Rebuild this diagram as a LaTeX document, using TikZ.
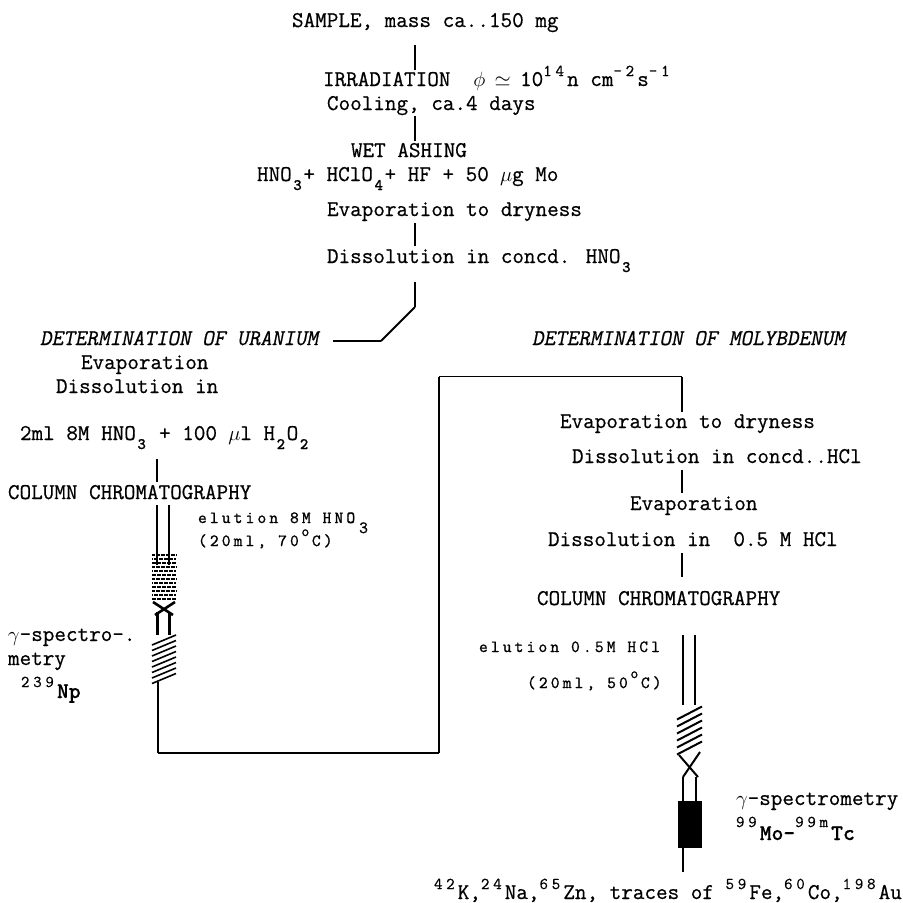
\documentclass[tikz,border=0pt]{standalone}
\usepackage{fontspec}
\newfontfamily\mainf[FakeBold=0.6]{Latin Modern Mono}
\newfontfamily\italf[FakeBold=0.6,FakeSlant=0.2]{Latin Modern Mono}
\newfontfamily\supf[LetterSpace=22.5,FakeBold=0.6]{Latin Modern Mono}
\newfontfamily\eluf[LetterSpace=18.5,FakeBold=1.2]{Latin Modern Mono}
\newfontfamily\boldf[FakeBold=0.6]{Latin Modern Mono Light}
\newcommand{\ch}[1]{\makebox[11.65pt]{$#1$}}
\newcommand{\up}[1]{\raisebox{10pt}{\fontsize{16.5}{16}\supf #1}\kern3.1pt}
\newcommand{\dn}[1]{\raisebox{-9pt}{\makebox[11.65pt]{\fontsize{16}{16}\boldf\bfseries #1}}}
\newcommand{\bld}[2][0pt]{\raisebox{#1}{\fontsize{22.5}{22}\boldf\bfseries #2}}
\newcommand{\degmark}{\kern2.7pt\raisebox{10pt}[0pt][0pt]{\fontsize{15}{15}\selectfont o}\kern2.7pt}
\tikzset{
  txt/.style={anchor=base west,inner sep=0pt,outer sep=0pt,font=\fontsize{22.5}{24}\mainf},
  itxt/.style={txt,font=\fontsize{22.5}{24}\italf},
  elu/.style={anchor=base west,inner sep=0pt,outer sep=0pt,font=\fontsize{17}{17}\eluf},
  thickline/.style={line width=2.8pt},
  thinline/.style={line width=1.1pt},
  tube/.style={line width=2.6pt},
  hatchline/.style={line width=1.6pt}
}
\begin{document}
\begin{tikzpicture}[x=1pt,y=-1pt]
\useasboundingbox (0,0) rectangle (903,903);
% top column
\node[txt] (sample) at (292,27) {SAMPLE, mass ca..150 mg};
\node[txt] (irr) at (323,86) {IRRADIATION\ \ \ch{\phi}\ \ch{\simeq}\ 10\up{14}n cm\up{-2}s\up{-1}};
\node[txt] (cool) at (327,110) {Cooling, ca.4 days};
\node[txt] (wet) at (351,157) {WET ASHING};
\node[txt] (reag) at (257,181) {HNO\dn{3}+ HClO\dn{4}+ HF + 50 \ch{\mu}g Mo};
\node[txt] (evap) at (327,216) {Evaporation to dryness};
\node[txt] (diss) at (327,263) {Dissolution in concd. HNO\dn{3}};
% left column
\node[itxt] (detu) at (40,345) {DETERMINATION OF URANIUM};
\node[txt] (levap) at (81,369) {Evaporation};
\node[txt] (ldiss) at (56,393) {Dissolution in};
\node[txt] (lacid) at (20,440) {2ml 8M HNO\dn{3} + 100 \ch{\mu}l H\dn{2}O\dn{2}};
\node[txt] (lcol) at (8,499) {COLUMN CHROMATOGRAPHY};
\node[elu] (lel1) at (198,523) {elution 8M HNO\kern4pt\raisebox{-10pt}{3}};
\node[elu] (lel2) at (198,546) {(20ml, 70\degmark C)};
\node[txt] (lg1) at (8,641) {\ch{\gamma}-spectro-.};
\node[txt] (lg2) at (8,665) {metry};
\node[txt] (lnp) at (21,687) {{\fontsize{16.5}{16}\supf 239}\kern3.1pt\bld[-11pt]{Np}};
% right column
\node[itxt] (detm) at (532,345) {DETERMINATION OF MOLYBDENUM};
\node[txt] (revap) at (560,428) {Evaporation to dryness};
\node[txt] (rdiss) at (572,463) {Dissolution in concd..HCl};
\node[txt] (revap2) at (630,510) {Evaporation};
\node[txt] (rdiss2) at (548,546) {Dissolution in\ \ 0.5 M HCl};
\node[txt] (rcol) at (537,605) {COLUMN CHROMATOGRAPHY};
\node[elu] (rel1) at (479,652) {elution 0.5M HCl};
\node[elu] (rel2) at (527,688) {(20ml, 50\degmark C)};
\node[txt] (rg1) at (736,805) {\ch{\gamma}-spectrometry};
\node[txt] (rg2) at (736,837) {\up{99}\bld[-3pt]{Mo-}\up{99m}\bld[-3pt]{Tc}};
\node[txt] (rtr) at (434,899) {\up{42}K,\up{24}Na,\up{65}Zn, traces of \up{59}Fe,\up{60}Co,\up{198}Au};
% junction coordinates
\foreach \n/\x/\y in {a1/415/45,a2/415/70,b1/415/116,b2/415/141,c1/415/223,c2/415/246,d1/415/282,d2/415/307,d3/381/341,d4/333/341,
  e1/157/459,e2/157/482,f1/157/505,f2/157/565,g1/169/505,g2/169/565,h1/157.5/612,h2/157.5/635,i1/169.5/612,i2/169.5/635,
  j1/158/682,j2/158/753,j3/439/753,j4/439/376.5,j5/682/376.5,j6/682/412,
  k1/682/470,k2/682/493,l1/682/553,l2/682/577,m1/683/635,m2/683/705,n1/695/635,n2/695/705,
  o1/683/777,o2/683/801,p1/696/777,p2/696/801,q1/683/848,q2/683/872}
  {\coordinate (\n) at (\x,\y);}
% connectors
\draw[thickline] (a1) -- (a2);
\draw[thickline] (b1) -- (b2);
\draw[thickline] (c1) -- (c2);
\draw[thickline] (d1) -- (d2);
\draw[line width=1.8pt] (d2) -- (d3);
\draw[thinline] (d3) -- (d4);
\draw[thickline] (e1) -- (e2);
\draw[tube] (f1) -- (f2);
\draw[tube] (g1) -- (g2);
\draw[tube] (h1) -- (h2);
\draw[tube] (i1) -- (i2);
\draw[thickline] (j1) -- (j2);
\draw[thinline] (j2) -- (j3);
\draw[line width=2.8pt] (j3) -- (j4);
\draw[thinline] (j4) -- (j5);
\draw[thickline] (j5) -- (j6);
\draw[thickline] (k1) -- (k2);
\draw[thickline] (l1) -- (l2);
\draw[tube] (m1) -- (m2);
\draw[tube] (n1) -- (n2);
\draw[tube] (o1) -- (o2);
\draw[tube] (p1) -- (p2);
\draw[tube] (q1) -- (q2);
% left column packing
\foreach \yy [count=\i] in {555,559,563,567,571,575,579,583,587,591,595,599}
  {\pgfmathsetmacro{\ph}{mod(\i,3)*1.3}
   \draw[line width=2.4pt,dash pattern=on 4pt off 1pt,dash phase=\ph pt] (152,\yy) -- (176,\yy);}
\draw[tube] (153,602) -- (173,615);
\draw[tube] (175,602) -- (155,615);
\foreach \yy in {640,645.5,651,656.5,662,667.5,673,678.5}
  {\draw[hatchline] (152,\yy+5) -- (176,\yy-5);}
% right column packing
\foreach \yy in {713,720,727,734,741,748}
  {\draw[line width=2pt] (677,\yy+6.5) -- (702,\yy-6.5);}
\draw[line width=2pt] (679,755) -- (698,777);
\draw[line width=2pt] (700,752) -- (683,777);
\fill[black] (678,801) rectangle (702,848);
\end{tikzpicture}
\end{document}
